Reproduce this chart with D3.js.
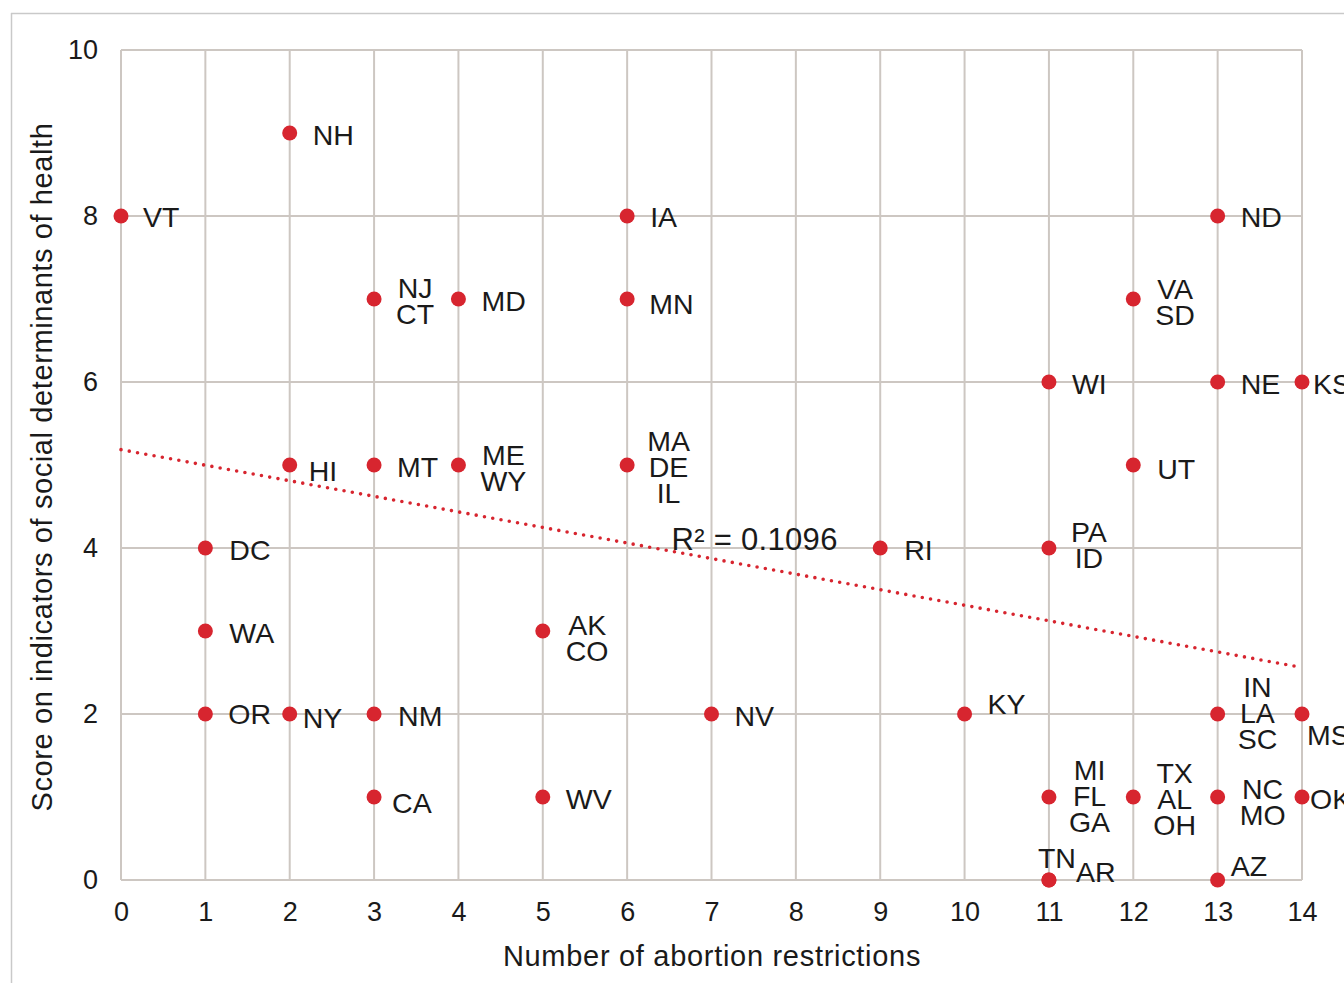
<!DOCTYPE html>
<html>
<head>
<meta charset="utf-8">
<script src="https://cdn.jsdelivr.net/npm/d3@7"></script>
<style>
  html, body { margin: 0; padding: 0; background: #fff; overflow: hidden; }
  svg { display: block; font-family: "Liberation Sans", Arial, sans-serif; }
</style>
</head>
<body>
<div id="chart"></div>
<script>
// one entry per plotted point; states sharing a point share one entry
const restrictions = [0, 2, 6, 13, 3, 4, 6, 12, 11, 13, 14, 2, 3, 4, 6, 12, 1, 9, 11, 1, 5, 1, 2, 3, 7, 10, 13, 14, 3, 5, 11, 12, 13, 14, 11, 11, 13];
const scores       = [8, 9, 8, 8, 7, 7, 7, 7, 6, 6, 6, 5, 5, 5, 5, 5, 4, 4, 4, 3, 3, 2, 2, 2, 2, 2, 2, 2, 1, 1, 1, 1, 1, 1, 0, 0, 0];
const stateLabels  = [
  ["VT"], ["NH"], ["IA"], ["ND"], ["NJ", "CT"], ["MD"], ["MN"], ["VA", "SD"],
  ["WI"], ["NE"], ["KS"], ["HI"], ["MT"], ["ME", "WY"], ["MA", "DE", "IL"], ["UT"],
  ["DC"], ["RI"], ["PA", "ID"], ["WA"], ["AK", "CO"], ["OR"], ["NY"], ["NM"],
  ["NV"], ["KY"], ["IN", "LA", "SC"], ["MS"], ["CA"], ["WV"], ["MI", "FL", "GA"],
  ["TX", "AL", "OH"], ["NC", "MO"], ["OK"], ["TN"], ["AR"], ["AZ"]
];
const xTicks = d3.range(0, 15);
const yTicks = [0, 2, 4, 6, 8, 10];
const xTitle = "Number of abortion restrictions";
const yTitle = "Score on indicators of social determinants of health";

// label placement: [left of block from point, centre of block from point], in px
const labelNudge = {
  VT: [22, 1], NH: [23, 2], IA: [23, 1], ND: [23, 1], NJ: [22, 2], MD: [23, 2], MN: [22, 5],
  VA: [22, 3], WI: [23, 2], NE: [23, 2], KS: [11, 2], HI: [19, 6], MT: [23, 2], ME: [22, 3],
  MA: [20, 2], UT: [24, 4], DC: [24, 2], RI: [24, 2], PA: [22, -3], WA: [24, 2], AK: [23, 7],
  OR: [23, 0], NY: [13, 4], NM: [24, 2], NV: [23, 2], KY: [23, -10], IN: [20, -1], MS: [5, 21],
  CA: [18, 6], WV: [23, 2], MI: [20, -1], TX: [20, 2], NC: [22, 5], OK: [8, 2],
  TN: [-11, -22], AR: [27, -8], AZ: [13, -14]
};

const W = 1344, H = 983;
const margin = { top: 50, left: 121 };
const plotW = 1181, plotH = 830;
const gridColor = "#cdc7c2";
const red = "#d7252f";
const ink = "#1a1a1a";

const svg = d3.select("#chart").append("svg").attr("width", W).attr("height", H);

// outer frame
svg.append("line").attr("x1", 11).attr("x2", W).attr("y1", 13.5).attr("y2", 13.5).attr("stroke", "#c9c9c9").attr("stroke-width", 1.5);
svg.append("line").attr("x1", 11.5).attr("x2", 11.5).attr("y1", 13).attr("y2", H).attr("stroke", "#c9c9c9").attr("stroke-width", 1.5);

const g = svg.append("g").attr("transform", `translate(${margin.left},${margin.top})`);
const x = d3.scaleLinear().domain([0, 14]).range([0, plotW]);
const y = d3.scaleLinear().domain([0, 10]).range([plotH, 0]);

// grid
g.append("g").selectAll("line").data(xTicks).join("line")
  .attr("x1", d => x(d)).attr("x2", d => x(d)).attr("y1", 0).attr("y2", plotH)
  .attr("stroke", gridColor).attr("stroke-width", 2);
g.append("g").selectAll("line").data(yTicks).join("line")
  .attr("x1", 0).attr("x2", plotW).attr("y1", d => y(d)).attr("y2", d => y(d))
  .attr("stroke", gridColor).attr("stroke-width", 2);

// axes (labels only)
const xAxis = g.append("g").attr("transform", `translate(0,${plotH})`)
  .call(d3.axisBottom(x).tickValues(xTicks).tickSize(0).tickPadding(22).tickFormat(d3.format("d")));
const yAxis = g.append("g")
  .call(d3.axisLeft(y).tickValues(yTicks).tickSize(0).tickPadding(23).tickFormat(d3.format("d")));
[xAxis, yAxis].forEach(a => {
  a.select(".domain").remove();
  a.selectAll("text").attr("font-family", "Liberation Sans, Arial, sans-serif").attr("font-size", 27).attr("fill", ink);
});

svg.append("text").attr("x", 712).attr("y", 966).attr("text-anchor", "middle")
  .attr("font-size", 29).attr("letter-spacing", 0.7).attr("fill", ink).text(xTitle);
svg.append("text").attr("transform", "translate(52,467) rotate(-90)").attr("text-anchor", "middle")
  .attr("font-size", 29).attr("letter-spacing", 0.6).attr("fill", ink).text(yTitle);

// linear trend, weighted by number of states at each point
const pts = [];
restrictions.forEach((r, i) => stateLabels[i].forEach(() => pts.push([r, scores[i]])));
const mx = d3.mean(pts, d => d[0]), my = d3.mean(pts, d => d[1]);
const sxy = d3.sum(pts, d => (d[0] - mx) * (d[1] - my));
const sxx = d3.sum(pts, d => (d[0] - mx) ** 2);
const syy = d3.sum(pts, d => (d[1] - my) ** 2);
const slope = sxy / sxx, icept = my - slope * mx;
const r2 = sxy * sxy / (sxx * syy);

g.append("line")
  .attr("x1", x(0)).attr("y1", y(icept)).attr("x2", x(14)).attr("y2", y(icept + slope * 14))
  .attr("stroke", red).attr("stroke-width", 3.6).attr("stroke-linecap", "round")
  .attr("stroke-dasharray", "0 8.4");

g.append("text").attr("x", x(6.55) - 2).attr("y", y(4) + 2)
  .attr("font-size", 31).attr("letter-spacing", 0.3).attr("fill", ink).text(`R² = ${r2.toFixed(4)}`);

// points
g.append("g").selectAll("circle").data(restrictions).join("circle")
  .attr("cx", d => x(d)).attr("cy", (d, i) => y(scores[i])).attr("r", 7.5).attr("fill", red);

// labels
const lineH = 26;
stateLabels.forEach((lines, i) => {
  const [dx, dy] = labelNudge[lines[0]];
  const px = x(restrictions[i]), py = y(scores[i]);
  const t = g.append("text").attr("font-size", 28.5).attr("fill", ink);
  const spans = lines.map((s, k) => t.append("tspan")
    .attr("y", py + dy + (k - (lines.length - 1) / 2) * lineH)
    .attr("dy", "0.36em").text(s));
  const widths = spans.map(s => s.node().getComputedTextLength());
  const bw = d3.max(widths);
  spans.forEach((s, k) => s.attr("x", px + dx + (bw - widths[k]) / 2));
});
</script>
</body>
</html>
